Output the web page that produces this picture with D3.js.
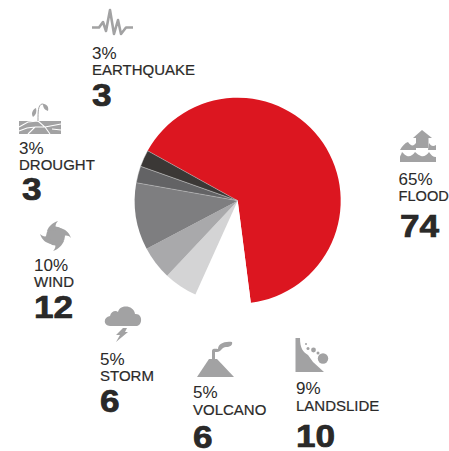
<!DOCTYPE html>
<html>
<head>
<meta charset="utf-8">
<script src="https://cdn.jsdelivr.net/npm/d3@7"></script>
<style>
  html, body { margin: 0; padding: 0; background: #fff; overflow: hidden; }
  text { font-family: "Liberation Sans", Arial, sans-serif; fill: #2b2a29; }
</style>
</head>
<body>
<div id="chart"></div>
<script>
// values, clockwise from the red slice
const categories = ["FLOOD", "LANDSLIDE", "VOLCANO", "STORM", "WIND", "DROUGHT", "EARTHQUAKE"];
const counts = [74, 10, 6, 6, 12, 3, 3];
const percents = ["65%", "9%", "5%", "5%", "10%", "3%", "3%"];
const sliceColors = ["#dc1620", "#ffffff", "#d4d4d5", "#a9a9ab", "#7e7e80", "#636365", "#3b3836"];

// where each label block sits: x, baseline of %, label, count, and count x
const labelPos = {
    FLOOD: [398.5, 185, 201, 237, 400],
    LANDSLIDE: [296, 394, 411, 447, 296],
    VOLCANO: [193, 398, 415, 448, 193],
    STORM: [100, 365, 381, 412, 100],
    WIND: [34, 271, 287, 318, 34],
    DROUGHT: [19, 154, 170, 200, 22],
    EARTHQUAKE: [92, 59, 75, 106, 92]
};

const iconGrey = "#a2a2a3";
const width = 449, height = 451;
const cx = 237.7, cy = 200.7, radius = 103;

const svg = d3.select("#chart")
    .append("svg")
    .attr("width", width)
    .attr("height", height);

// pie
const pie = d3.pie().sort(null)
    .startAngle(-61 * Math.PI / 180)
    .endAngle(299 * Math.PI / 180);
const arc = d3.arc().innerRadius(0).outerRadius(radius);

svg.append("g")
    .attr("transform", "translate(" + cx + "," + cy + ")")
    .selectAll("path")
    .data(pie(counts))
    .enter().append("path")
    .attr("d", arc)
    .attr("fill", (d, i) => sliceColors[i])
    .attr("stroke", (d, i) => (i == 5 || i == 6) ? "#d8d8d8" : "none")
    .attr("stroke-width", 0.4);

// labels
const labels = svg.append("g");
categories.forEach((c, i) => {
    const p = labelPos[c];
    labels.append("text").attr("x", p[0]).attr("y", p[1])
        .attr("font-size", 17).text(percents[i]);
    labels.append("text").attr("x", p[0]).attr("y", p[2])
        .attr("font-size", c == "FLOOD" ? 14.6 : 15).attr("stroke", "#2b2a29").attr("stroke-width", 0.2).text(c);
    // counts are wider than the font, so stretch them a little
    labels.append("text")
        .attr("transform", "translate(" + p[4] + "," + p[3] + ") scale(1.1,1)")
        .attr("font-size", 32).attr("font-weight", "bold").attr("fill", "#222")
        .attr("stroke", "#222").attr("stroke-width", 0.7).text(counts[i]);
});

// icons
const icons = svg.append("g").attr("fill", iconGrey);

// earthquake
icons.append("polyline")
    .attr("points", "92,27.5 99,27.5 103,22 106,31 110,10 114,34 118,20 121,34 126,27.5 133,27.5")
    .attr("fill", "none").attr("stroke", iconGrey).attr("stroke-width", 2.6).attr("stroke-linejoin", "round");

// drought
icons.append("rect").attr("x", 19).attr("y", 121).attr("width", 42).attr("height", 13);
icons.append("path")
    .attr("d", "M19,127 L28,122 L38,121 M38,121 L45,127 L50,134 M28,134 L35,127 L45,127 L61,124 M19,131 L27,128 L35,127 M52,129 L61,130")
    .attr("fill", "none").attr("stroke", "#fff").attr("stroke-width", 1.1);
icons.append("path")
    .attr("d", "M38,121 C38,112 38,105 42,104 C45,104 47,107 47,110")
    .attr("fill", "none").attr("stroke", iconGrey).attr("stroke-width", 1);
icons.append("path").attr("d", "M36,108 C32,110 31,114 33,117 C36,115 37,112 36,108 Z");
icons.append("path").attr("d", "M43,104 C47,104 49,107 48,111 C45,110 43,108 43,104 Z");

// wind
icons.append("circle").attr("cx", 55.5).attr("cy", 236).attr("r", 9.5);
icons.append("path").attr("d", "M47,231 C49,226 52,223 58,221 C55,224 55,227 57,230 Z");
icons.append("path").attr("d", "M60,228 C65,229 69,232 71,238 C68,235 65,235 62,237 Z");
icons.append("path").attr("d", "M64,241 C62,245 59,249 53,251 C56,248 56,245 54,242 Z");
icons.append("path").attr("d", "M51,244 C46,243 42,240 40,234 C43,237 46,237 49,235 Z");

// storm
icons.append("path").attr("d", "M110,326 C103,326 103,317 110,316 C111,311 116,310 118,312 C120,304 134,305 135,314 C143,313 143,326 136,326 Z");
icons.append("path").attr("d", "M123,328 L127,328 L125,332 L128,332 L116,342 L120,335 L116,335 Z");

// volcano
icons.append("path").attr("d", "M197,377 L209,359 L217,359 L234,377 Z");
icons.append("path").attr("d", "M212,359 L212,351 C212,348 216,349 218,349 C218,344 224,341 232,342 C233,345 230,347 226,347 C222,347 221,352 217,352 L215,352 L215,359 Z");

// landslide
icons.append("path").attr("d", "M295.5,338 L300,338 C300,348 303,352 308,355 L313,362 L324,372 L295.5,372 Z");
icons.append("circle").attr("cx", 323).attr("cy", 358.5).attr("r", 5.2);
icons.append("circle").attr("cx", 313.5).attr("cy", 350).attr("r", 2.4);
icons.append("circle").attr("cx", 308).attr("cy", 348.5).attr("r", 1.5);
icons.append("circle").attr("cx", 318).attr("cy", 353).attr("r", 1.5);
icons.append("circle").attr("cx", 306).attr("cy", 344).attr("r", 1);

// flood
icons.append("path").attr("d", "M422,130 L432,138 L428.5,138 L428.5,148 L416,148 L416,138 L413,138 Z");
icons.append("path").attr("d", "M400,150 C402,146 405,143 408,142 C410,145 412,146 414,145 L416,143 L416,150 Z");
icons.append("path").attr("d", "M400,150 L436,150 L436,145 C433,147 431,146 429,143 L428,150 L400,150 Z");
icons.append("path").attr("d", "M400,162 L436,162 L436,157 C433,157 431,155 429,152 C427,155 424,157 421,156 C419,155 417,154 415,152 C413,155 410,157 407,156 C405,155 404,154 402,152 C401,155 400,156 400,157 Z");
</script>
</body>
</html>
